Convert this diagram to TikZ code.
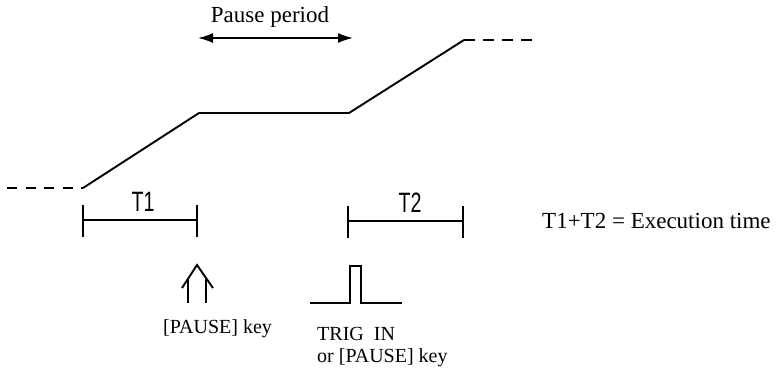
\documentclass[tikz,border=0pt]{standalone}
\usepackage{fontspec}
\setmainfont{Liberation Serif}
\newfontfamily\labfont{Liberation Sans}
\usetikzlibrary{arrows.meta}
\tikzset{
  wave/.style={line width=1.9pt, line join=miter},
  dashwave/.style={line width=1.9pt, dash pattern=on 10pt off 8.5pt},
  bar/.style={line width=1.9pt},
  txt/.style={inner sep=0pt, font=\fontsize{23}{26}\selectfont},
  smalltxt/.style={inner sep=0pt, font=\fontsize{20}{22}\selectfont, align=left},
  tlab/.style={inner sep=0pt, font=\labfont\fontsize{28}{30}\selectfont},
  pausearrow/.style={line width=1.6pt, {Latex[length=15pt,width=10pt]}-{Latex[length=15pt,width=10pt]}}
}
\begin{document}
\begin{tikzpicture}[x=1pt,y=-1pt]
\useasboundingbox (0,0) rectangle (780,372);
% waveform
\coordinate (l0) at (7,188);
\coordinate (a) at (83,188);
\coordinate (b) at (199,113);
\coordinate (c) at (349,113);
\coordinate (d) at (464,40);
\coordinate (r0) at (535,40);
\draw[dashwave] (l0) -- (a);
\draw[wave] (a) -- (b) -- (c) -- (d);
\draw[dashwave, dash pattern=on 11pt off 8pt] (d) -- (r0);
% pause period
\coordinate (pl) at (198,38);
\coordinate (pr) at (353,38);
\draw[pausearrow] (pl) -- (pr);
\node[txt, anchor=base] (pp) at (270,23) {Pause period};
% T1 bar
\coordinate (t1a) at (83,220);
\coordinate (t1b) at (197,220);
\draw[bar] (t1a) -- (t1b);
\draw[bar] ([yshift=-17pt]t1a) -- ([yshift=15pt]t1a);
\draw[bar] ([yshift=-17pt]t1b) -- ([yshift=15pt]t1b);
\node[tlab] (t1) at (143,202) {\scalebox{0.7}[1]{T1}};
% T2 bar
\coordinate (t2a) at (348,221);
\coordinate (t2b) at (463,221);
\draw[bar] (t2a) -- (t2b);
\draw[bar] ([yshift=-17pt]t2a) -- ([yshift=15pt]t2a);
\draw[bar] ([yshift=-17pt]t2b) -- ([yshift=15pt]t2b);
\node[tlab] (t2) at (410,203) {\scalebox{0.7}[1]{T2}};
\node[txt, anchor=base west] (eq) at (542,228) {T1+T2 = Execution time};
% double up arrow
\coordinate (ap) at (197,265);
\coordinate (al) at (182,288);
\coordinate (ar) at (213,288);
\draw[bar, line join=miter] (al) -- (ap) -- (ar);
\coordinate (v1t) at (188,279);
\coordinate (v1b) at (188,303);
\coordinate (v2t) at (206,279);
\coordinate (v2b) at (206,303);
\draw[bar] (v1t) -- (v1b);
\draw[bar] (v2t) -- (v2b);
\node[smalltxt, anchor=base west] (pk) at (163,333) {[PAUSE] key};
% pulse
\coordinate (p0) at (310,303);
\coordinate (p1) at (350,303);
\coordinate (p2) at (350,266);
\coordinate (p3) at (361,266);
\coordinate (p4) at (361,303);
\coordinate (p5) at (402,303);
\draw[wave] (p0) -- (p1) -- (p2) -- (p3) -- (p4) -- (p5);
\node[smalltxt, anchor=base west] (trig) at (317,340) {TRIG\ \ IN};
\node[smalltxt, anchor=base west] (orp) at (317,362) {or [PAUSE] key};
\end{tikzpicture}
\end{document}
